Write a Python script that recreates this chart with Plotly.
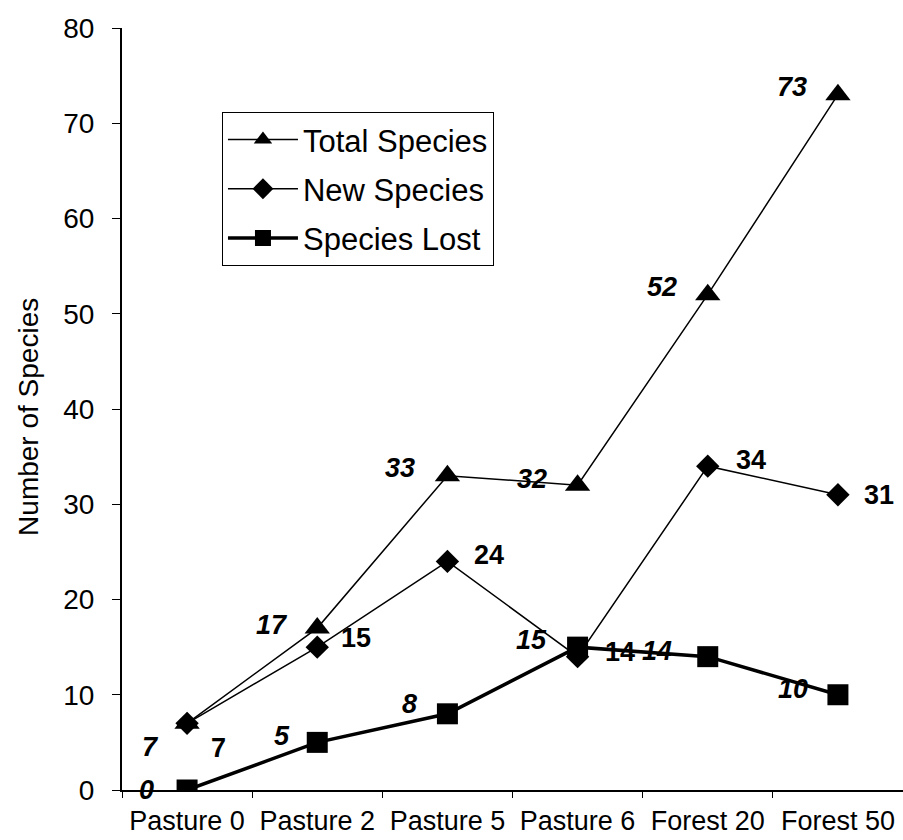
import plotly.graph_objects as go

categories = ["Pasture 0", "Pasture 2", "Pasture 5", "Pasture 6", "Forest 20", "Forest 50"]
total_species = [7, 17, 33, 32, 52, 73]
new_species = [7, 15, 24, 14, 34, 31]
species_lost = [0, 5, 8, 15, 14, 10]

FONT = "Arial, Liberation Sans, sans-serif"

fig = go.Figure()
fig.add_trace(go.Scatter(x=categories, y=total_species, name="Total Species", mode="lines+markers",
                         legendgroup="a",
                         line=dict(color="black", width=1.5),
                         marker=dict(symbol="triangle-up", size=22, color="black")))
fig.add_trace(go.Scatter(x=categories, y=new_species, name="New Species", mode="lines+markers",
                         legendgroup="b",
                         line=dict(color="black", width=1.5),
                         marker=dict(symbol="diamond", size=18, color="black")))
fig.add_trace(go.Scatter(x=categories, y=species_lost, name="Species Lost", mode="lines+markers",
                         legendgroup="c",
                         line=dict(color="black", width=3.5),
                         marker=dict(symbol="square", size=21, color="black")))

# label offsets (pixels) for each series
total_off = [(-37, -24), (-45, 3), (-47, 8), (-46, 6), (-46, 8), (-46, 8)]
new_off = [(31, -25), (39, 9), (42, 6), (42, 5), (43, 6), (41, 0)]
lost_off = [(-41, 0), (-35, 6), (-38, 10), (-46, 7), (-51, 6), (-45, 6)]

def add_labels(values, offsets, italic):
    for c, v, (dx, dy) in zip(categories, values, offsets):
        fig.add_annotation(x=c, y=v, text=str(v), showarrow=False, xshift=dx, yshift=dy,
                           font=dict(family=FONT, size=27, color="black", weight="bold",
                                     style="italic" if italic else "normal"))

add_labels(total_species, total_off, True)
add_labels(new_species, new_off, False)
add_labels(species_lost, lost_off, True)

# y-axis title
fig.add_annotation(text="Number of Species", xref="paper", yref="paper", x=-0.12, y=0.49,
                   xanchor="center", yanchor="middle", textangle=-90, showarrow=False,
                   font=dict(family=FONT, size=28, color="black"))

fig.update_layout(
    width=903, height=840,
    margin=dict(l=122, r=0, t=28, b=50, autoexpand=False),
    paper_bgcolor="white", plot_bgcolor="white",
    font=dict(family=FONT, size=27, color="black"),
    showlegend=True,
    legend=dict(x=0.128, y=0.89, xanchor="left", yanchor="top",
                traceorder="grouped", tracegroupgap=6, itemwidth=70,
                bordercolor="black", borderwidth=1, bgcolor="white",
                font=dict(family=FONT, size=31, color="black")),
)
fig.update_xaxes(type="category", range=[-0.5, 5.5], showline=True, linecolor="black", linewidth=2,
                 automargin=False,
                 ticks="outside", tickson="boundaries", ticklen=6, tickcolor="black",
                 ticklabelstandoff=6,
                 showgrid=False, zeroline=False, tickfont=dict(size=27))
fig.update_yaxes(range=[0, 80], dtick=10, showline=True, linecolor="black", linewidth=2, automargin=False,
                 ticks="outside", ticklen=8, tickcolor="black", showgrid=False, zeroline=False,
                 ticklabelstandoff=12,
                 tickfont=dict(size=28))

fig.write_html("out.html", post_script="document.body.style.margin='0';",
               config={"displayModeBar": False})
